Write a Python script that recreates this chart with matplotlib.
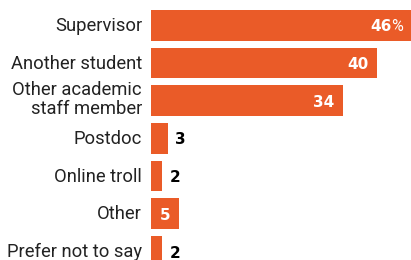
import matplotlib.pyplot as plt

categories = ['Supervisor', 'Another student', 'Other academic\nstaff member',
              'Postdoc', 'Online troll', 'Other', 'Prefer not to say']
values = [46, 40, 34, 3, 2, 5, 2]

orange = '#EA5B28'
plt.rcParams['font.family'] = ['Roboto', 'DejaVu Sans']

fig = plt.figure(figsize=(4.11, 2.6), dpi=100)
ax = fig.add_axes([151 / 411, 0, 260 / 411, 1])

pos = list(range(len(values)))
ax.barh(pos, values, height=0.815, color=orange)
ax.set_xlim(0, 46)
ax.set_ylim(6.225, -0.671)
ax.axis('off')

num_font = dict(fontsize=11, fontweight='bold', family='DejaVu Sans')

for y, cat, v in zip(pos, categories, values):
    va = 'center' if '\n' in cat else 'center_baseline'
    ax.annotate(cat, xy=(0, y), xytext=(-9, 1.5), textcoords='offset pixels',
                ha='right', va=va, fontsize=13.2, color='#222222',
                linespacing=1.05)
    if y == 0:
        ax.annotate(str(v), xy=(v, y), xytext=(-19, 0), textcoords='offset pixels',
                    ha='right', va='center_baseline', color='white', **num_font)
        ax.annotate('%', xy=(v, y), xytext=(-20, 0), textcoords='offset pixels',
                    ha='left', va='center_baseline', fontsize=11.5, color='white')
    elif v >= 5:
        ax.annotate(str(v), xy=(v, y), xytext=(-9, 0), textcoords='offset pixels',
                    ha='right', va='center_baseline', color='white', **num_font)
    else:
        ax.annotate(str(v), xy=(v, y), xytext=(7, 0), textcoords='offset pixels',
                    ha='left', va='center_baseline', color='black', **num_font)

plt.savefig('out.png', dpi=100)
